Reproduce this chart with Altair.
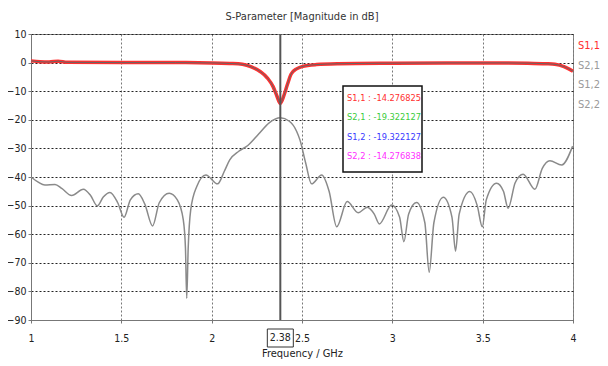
import altair as alt
import pandas as pd

# ---- data ----
freq_s11 = [1.0, 1.05, 1.1, 1.15, 1.2, 1.5, 1.8, 2.0, 2.1, 2.17, 2.22, 2.27, 2.31, 2.34, 2.36, 2.38,
            2.40, 2.42, 2.44, 2.47, 2.5, 2.58, 2.7, 3.0, 3.3, 3.6, 3.75, 3.85, 3.9, 3.95, 4.0]
db_s11 = [0.6, 0.3, 0.2, 0.5, 0.1, 0.0, 0.0, -0.1, -0.3, -0.6, -1.5, -3.2, -5.5, -8.4, -11.5, -14.28,
          -11.5, -7.5, -4.0, -2.2, -1.4, -0.7, -0.4, -0.2, -0.1, -0.1, -0.2, -0.4, -0.6, -1.4, -3.0]

freq_s21 = [1.0, 1.04, 1.077, 1.133, 1.17, 1.225, 1.29, 1.33, 1.367, 1.40, 1.437, 1.48, 1.515, 1.55,
            1.594, 1.63, 1.673, 1.71, 1.765, 1.81, 1.843, 1.855, 1.862, 1.87, 1.884, 1.917, 1.968,
            2.033, 2.07, 2.10, 2.15, 2.20, 2.26, 2.32, 2.38, 2.43, 2.47, 2.489, 2.52, 2.553, 2.609,
            2.65, 2.692, 2.75, 2.811, 2.861, 2.90, 2.928, 2.996, 3.04, 3.064, 3.09, 3.134, 3.18,
            3.204, 3.23, 3.282, 3.33, 3.35, 3.37, 3.429, 3.47, 3.498, 3.52, 3.577, 3.615, 3.641,
            3.68, 3.724, 3.789, 3.83, 3.872, 3.937, 3.998]
db_s21 = [-40.0, -41.8, -42.8, -42.6, -44.0, -46.5, -44.3, -46.5, -50.1, -47.0, -45.4, -49.0, -54.1,
          -48.0, -45.9, -49.5, -57.1, -49.0, -45.7, -48.0, -55.0, -65.0, -82.4, -65.0, -51.5, -43.4,
          -39.3, -42.4, -38.0, -34.0, -31.0, -29.0, -25.0, -21.0, -19.32, -20.5, -24.0, -27.1, -35.0,
          -42.4, -39.3, -45.0, -57.4, -48.6, -52.5, -50.6, -53.0, -56.4, -49.8, -54.0, -62.6, -53.0,
          -48.9, -56.0, -73.3, -56.0, -47.1, -54.0, -65.9, -53.0, -45.1, -50.0, -57.4, -48.0, -42.2,
          -45.0, -50.9, -42.0, -39.0, -44.3, -37.0, -34.3, -35.8, -29.2]

marker_freq = [2.38]
marker_label = ["2.38"]
marker_texts = ["S1,1 : -14.276825", "S2,1 : -19.322127", "S1,2 : -19.322127", "S2,2 : -14.276838"]
marker_colors = ["#ff2f2f", "#3ccc3c", "#3a3aff", "#ff2fff"]
legend_names = ["S1,1", "S2,1", "S1,2", "S2,2"]
legend_colors = ["#ff2f2f", "#9a9a9a", "#9a9a9a", "#9a9a9a"]
x_ticks = [1, 1.5, 2, 2.5, 3, 3.5, 4]
y_ticks = [-90, -80, -70, -60, -50, -40, -30, -20, -10, 0, 10]

FONT = "DejaVu Sans Condensed, Liberation Sans, sans-serif"
W, H = 542, 286

s11 = pd.DataFrame({"f": freq_s11, "db": db_s11})
s21 = pd.DataFrame({"f": freq_s21, "db": db_s21})
mk = pd.DataFrame({"f": marker_freq, "label": marker_label})

xs = alt.Scale(domain=[1, 4], nice=False, zero=False)
ys = alt.Scale(domain=[-90, 10], nice=False, zero=False)

x_axis = alt.Axis(values=x_ticks, format="~g", title="Frequency / GHz", grid=True,
                  gridDash=[2, 2], gridColor="#777", tickSize=3, labelPadding=10,
                  titlePadding=4, domainColor="#777", labelOverlap=False, labelFlush=False)
y_axis = alt.Axis(values=y_ticks, title=None, grid=True, gridDash=[2, 2], gridColor="#222",
                  tickSize=3, labelPadding=2, domainColor="#777", labelOverlap=False,
                  labelFlush=False)

X = alt.X("f:Q", scale=xs, axis=x_axis)
Y = alt.Y("db:Q", scale=ys, axis=y_axis)

base_s21 = alt.Chart(s21).mark_line(color="#8a8a8a", strokeWidth=1.5, interpolate="monotone").encode(x=X, y=Y)
s11_red = alt.Chart(s11).mark_line(color="#ff3030", strokeWidth=3.5, interpolate="monotone").encode(x=X, y=Y)
s11_core = alt.Chart(s11).mark_line(color="#666", strokeWidth=1, interpolate="monotone").encode(x=X, y=Y)

rule = alt.Chart(mk).mark_rule(color="#555", strokeWidth=2).encode(x=X)

mk_box = alt.Chart(mk).mark_rect(fill="white", stroke="#333", strokeWidth=1, xOffset=-13, x2Offset=13).encode(
    x=X, x2="f:Q", y=alt.value(H + 9), y2=alt.value(H + 27))
mk_txt = alt.Chart(mk).mark_text(font=FONT, fontSize=10.5, color="#222", baseline="middle").encode(
    x=X, y=alt.value(H + 18), text="label:N")

tip_box = alt.Chart(mk).mark_rect(fill="white", stroke="#111", strokeWidth=1.5).encode(
    x=alt.value(312), x2=alt.value(391), y=alt.value(52), y2=alt.value(138))

layers = [base_s21, s11_red, s11_core, rule, mk_box, mk_txt, tip_box]

for i, (t, c) in enumerate(zip(marker_texts, marker_colors)):
    layers.append(alt.Chart(mk).mark_text(font=FONT, fontSize=9.2, color=c, align="left",
                                          baseline="middle", text=t).encode(
        x=alt.value(316), y=alt.value(64 + i * 19.3)))

for i, (t, c) in enumerate(zip(legend_names, legend_colors)):
    layers.append(alt.Chart(mk).mark_text(font=FONT, fontSize=11, color=c, align="left",
                                          baseline="middle", text=t).encode(
        x=alt.value(W + 5), y=alt.value(12 + i * 19.7)))

layers.append(alt.Chart(mk).mark_text(font=FONT, fontSize=11, color="#333", baseline="middle",
                                      text="S-Parameter [Magnitude in dB]").encode(
    x=alt.value(W / 2), y=alt.value(-17)))

chart = alt.layer(*layers).properties(
    width=W, height=H,
    autosize=alt.AutoSizeParams(type="none"),
    padding={"left": 23, "top": 26, "right": 27, "bottom": 42},
    background="white",
).configure_view(stroke="#888", strokeWidth=1).configure_axis(
    labelFont=FONT, titleFont=FONT, labelFontSize=10.5, titleFontSize=11,
    labelColor="#222", titleColor="#222", titleFontWeight="normal", tickColor="#777"
)

chart.save("out.html", embed_options={"renderer": "svg", "actions": False})
